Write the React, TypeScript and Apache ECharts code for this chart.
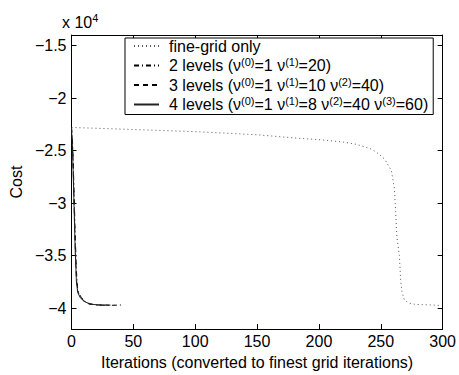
import React, { useEffect, useRef } from "react";
import * as echarts from "echarts";

const FONT = "'Liberation Sans', Arial, Helvetica, sans-serif";

// Cost values (raw), iterations on x
const fineX = [0, 50, 100, 150, 180, 204, 220, 230, 241, 243, 248, 253, 255, 258.5, 261, 262, 263, 265, 266, 267, 269, 272, 278, 290, 298];
const fineY = [-22800, -23000, -23200, -23500, -23800, -24000, -24200, -24400, -24800, -24900, -25300, -25800, -26200, -26900, -28600, -30800, -33200, -35000, -37200, -38400, -39200, -39500, -39650, -39700, -39750];

const twoX = [0, 1, 2, 3, 4, 5, 6, 8, 10, 12, 15, 20, 30, 40];
const twoY = [-22800, -24500, -28500, -33000, -36500, -38200, -38600, -39000, -39250, -39450, -39600, -39700, -39750, -39700];

const threeX = [0, 1, 2, 3, 4, 5, 7, 10, 14, 20, 35];
const threeY = [-22800, -25000, -29500, -34000, -37200, -38400, -38900, -39300, -39600, -39700, -39720];

const fourX = [0, 1, 2, 3, 4, 5, 7, 10, 15, 22, 30];
const fourY = [-22800, -25500, -30000, -34500, -37500, -38500, -39000, -39350, -39620, -39700, -39720];

const seriesNames = [
  "fine-grid only",
  "2 levels (ν(0)=1 ν(1)=20)",
  "3 levels (ν(0)=1 ν(1)=10 ν(2)=40)",
  "4 levels (ν(0)=1 ν(1)=8 ν(2)=40 ν(3)=60)",
];

const yTicks = [-40000, -35000, -30000, -25000, -20000, -15000];
const xLabel = "Iterations (converted to finest grid iterations)";
const yLabel = "Cost";

const zip = (xs: number[], ys: number[]) => xs.map((x, i) => [x, ys[i]]);

export default function App() {
  const ref = useRef<HTMLDivElement>(null);
  useEffect(() => {
    if (!ref.current) return;
    const chart = echarts.init(ref.current, null, { renderer: "svg" });
    const fmtY = (v: number) => String(Math.round(v / 1000) / 10).replace("-", "\u2212");
    const legendFmt = (name: string) =>
      "{g| }" +
      name
        .split(/(\(\d\))/)
        .filter((p) => p.length > 0)
        .map((p) => (/^\(\d\)$/.test(p) ? `{s|${p}}` : `{n|${p}}`))
        .join("");
    const axisCommon = {
      axisLine: { show: true, onZero: false, lineStyle: { color: "#000", width: 1 } },
      splitLine: { show: false },
    };
    chart.setOption({
      animation: false,
      backgroundColor: "#fff",
      grid: { left: 62, top: 35, width: 383, height: 303, containLabel: false },
      graphic: [
        {
          type: "text",
          left: 62,
          top: 12,
          style: {
            text: "{a|x 10}{b|4}",
            rich: {
              a: { fontSize: 16, fontFamily: FONT, fill: "#000", lineHeight: 20 },
              b: { fontSize: 11, fontFamily: FONT, fill: "#000", lineHeight: 11, verticalAlign: "top" },
            },
          },
        },
      ],
      xAxis: [
        {
          type: "value",
          min: 0,
          max: 300,
          interval: 50,
          position: "bottom",
          ...axisCommon,
          axisTick: { show: true, inside: true, length: 5, lineStyle: { color: "#000" } },
          axisLabel: { color: "#000", fontSize: 16, fontFamily: FONT, margin: 4 },
          name: xLabel,
          nameLocation: "middle",
          nameGap: 20,
          nameTextStyle: { color: "#000", fontSize: 16, fontFamily: FONT },
        },
        {
          type: "value",
          min: 0,
          max: 300,
          interval: 50,
          position: "top",
          ...axisCommon,
          axisTick: { show: true, inside: true, length: 5, lineStyle: { color: "#000" } },
          axisLabel: { show: false },
        },
      ],
      yAxis: [
        {
          type: "value",
          min: -42000,
          max: -14000,
          position: "left",
          ...axisCommon,
          axisTick: { show: true, inside: true, length: 5, customValues: yTicks, lineStyle: { color: "#000" } },
          axisLabel: { color: "#000", fontSize: 16, fontFamily: FONT, margin: 5, customValues: yTicks, formatter: fmtY },
          name: yLabel,
          nameLocation: "middle",
          nameGap: 39,
          nameTextStyle: { color: "#000", fontSize: 16, fontFamily: FONT },
        },
        {
          type: "value",
          min: -42000,
          max: -14000,
          position: "right",
          ...axisCommon,
          axisTick: { show: true, inside: true, length: 5, customValues: yTicks, lineStyle: { color: "#000" } },
          axisLabel: { show: false },
        },
      ],
      legend: {
        show: true,
        orient: "vertical",
        left: 125,
        top: 38,
        itemWidth: 25,
        itemHeight: 14,
        itemGap: 2.5,
        padding: [0, 5, 2, 8],
        borderColor: "#000",
        borderWidth: 1,
        borderRadius: 0,
        backgroundColor: "#fff",
        data: seriesNames,
        formatter: legendFmt,
        itemStyle: { opacity: 0, borderWidth: 0 },
        textStyle: {
          color: "#000",
          fontSize: 16,
          fontFamily: FONT,
          rich: {
            g: { width: 5, fontSize: 16, lineHeight: 18 },
            n: { fontSize: 16, fontFamily: FONT, color: "#000", lineHeight: 18 },
            s: { fontSize: 11, fontFamily: FONT, color: "#000", lineHeight: 11, verticalAlign: "top" },
          },
        },
      },
      series: [
        {
          name: seriesNames[0],
          type: "line",
          symbol: "none",
          data: zip(fineX, fineY),
          lineStyle: { color: "#555", width: 1, type: [1, 3] },
          itemStyle: { color: "#555" },
          z: 2,
        },
        {
          name: seriesNames[1],
          type: "line",
          symbol: "none",
          data: zip(twoX, twoY),
          lineStyle: { color: "#000", width: 1, type: [5, 3, 1, 3] },
          itemStyle: { color: "#000" },
          z: 3,
        },
        {
          name: seriesNames[2],
          type: "line",
          symbol: "none",
          data: zip(threeX, threeY),
          lineStyle: { color: "#000", width: 1, type: [5, 4] },
          itemStyle: { color: "#000" },
          z: 4,
        },
        {
          name: seriesNames[3],
          type: "line",
          symbol: "none",
          data: zip(fourX, fourY),
          lineStyle: { color: "#222", width: 1 },
          itemStyle: { color: "#222" },
          z: 5,
        },
      ],
    });
    return () => chart.dispose();
  }, []);
  return (
    <div
      ref={ref}
      style={{ position: "fixed", left: 0, top: 0, width: 459, height: 375, background: "#fff" }}
    />
  );
}
